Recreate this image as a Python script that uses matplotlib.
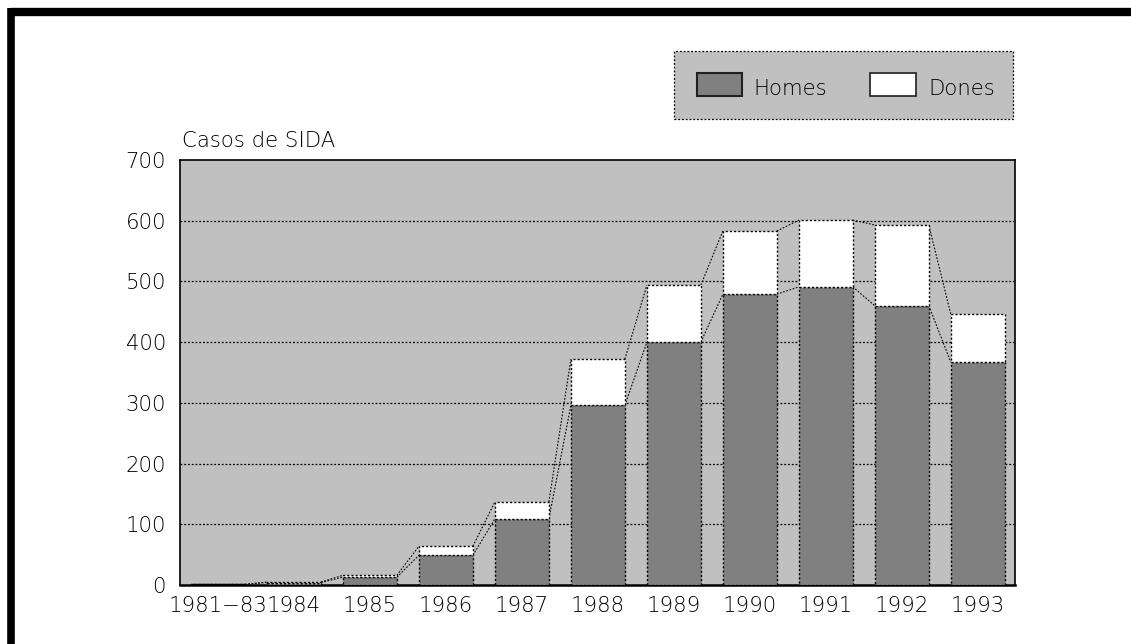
import matplotlib
matplotlib.use("Agg")
import matplotlib.pyplot as plt
from matplotlib.patches import Rectangle
from matplotlib.lines import Line2D
import numpy as np

categories = ["1981\u221283", "1984", "1985", "1986", "1987", "1988", "1989", "1990", "1991", "1992", "1993"]
homes = [1, 4, 13, 49, 109, 296, 400, 479, 491, 460, 367]
dones = [0, 1, 3, 15, 28, 76, 94, 104, 110, 133, 79]
yticks = [0, 100, 200, 300, 400, 500, 600, 700]
ylabel = "Casos de SIDA"
legend_labels = ["Homes", "Dones"]

W, H = 1131, 644
plt.rcParams['font.family'] = ['DejaVu Sans']
FS = 15.3
GRAY_BG = "#c0c0c0"
GRAY_BAR = "#808080"
DOT = (0, (1.5, 1.5))

fig = plt.figure(figsize=(W / 100, H / 100), dpi=100)
fig.patch.set_facecolor("white")

def fx(px):
    return px / W

def fy(py):
    return 1 - py / H

ax = fig.add_axes([fx(180), fy(585), fx(1015) - fx(180), fy(160) - fy(585)])
ax.set_facecolor(GRAY_BG)

x = np.arange(len(categories))
w = 0.71
totals = [h + d for h, d in zip(homes, dones)]

ax.bar(x, homes, width=w, color=GRAY_BAR, edgecolor="black", linewidth=1, linestyle=DOT, zorder=3)
ax.bar(x, dones, width=w, bottom=homes, color="white", edgecolor="black", linewidth=1, linestyle=DOT, zorder=3)

for series in (homes, totals):
    for i in range(len(x) - 1):
        ax.plot([x[i] + w / 2, x[i + 1] - w / 2], [series[i], series[i + 1]],
                color="black", linewidth=0.8, linestyle=DOT, zorder=2)

for yv in yticks[1:-1]:
    ax.axhline(yv, color="black", linewidth=0.9, linestyle=DOT, zorder=1)

ax.set_xlim(-0.5, 10.49)
ax.set_ylim(0, 700)
ax.set_yticks(yticks)
ax.set_yticklabels([str(v) for v in yticks], fontsize=FS, fontweight="light")
ax.set_xticks(x)
ax.set_xticklabels(categories, fontsize=FS, fontweight="light")
ax.tick_params(axis="both", length=0)
ax.tick_params(axis="y", pad=10)
ax.tick_params(axis="x", pad=8)
for s in ax.spines.values():
    s.set_linewidth(1.2)
    s.set_color("black")
ax.spines["bottom"].set_linewidth(1.8)

fig.text(fx(182), fy(147), ylabel, fontsize=FS, fontweight="light", ha="left", va="baseline")

# legend box
fig.add_artist(Rectangle((fx(674), fy(119)), fx(1013) - fx(674), fy(51) - fy(119),
                         transform=fig.transFigure, facecolor=GRAY_BG, edgecolor="black",
                         linewidth=0.9, linestyle=DOT))
fig.add_artist(Rectangle((fx(697), fy(96)), fx(742) - fx(697), fy(73) - fy(96),
                         transform=fig.transFigure, facecolor=GRAY_BAR, edgecolor="#202020",
                         linewidth=1.5))
fig.text(fx(753), fy(89), legend_labels[0], fontsize=FS, fontweight="light", ha="left", va="center")
fig.add_artist(Rectangle((fx(870), fy(96)), fx(916) - fx(870), fy(73) - fy(96),
                         transform=fig.transFigure, facecolor="white", edgecolor="#202020",
                         linewidth=1.2))
fig.text(fx(928), fy(89), legend_labels[1], fontsize=FS, fontweight="light", ha="left", va="center")

# outer frame lines (top and left)
fig.add_artist(Line2D([fx(10.5), 1.0], [fy(12), fy(12)], transform=fig.transFigure,
                      color="black", linewidth=6, solid_capstyle="butt"))
fig.add_artist(Line2D([fx(10.5), fx(10.5)], [fy(8), 0.0], transform=fig.transFigure,
                      color="black", linewidth=5.5, solid_capstyle="butt"))

fig.savefig("out.png", dpi=100, facecolor="white")
